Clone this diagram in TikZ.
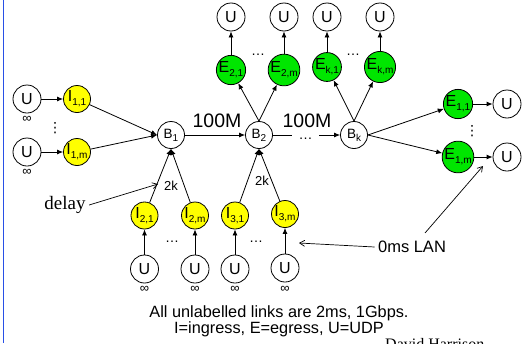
\documentclass[tikz,border=0pt]{standalone}
\usepackage{fontspec}
\setmainfont{Liberation Sans}
\newfontfamily\serifface{Liberation Serif}
\newfontfamily\symface{DejaVu Sans}
\usetikzlibrary{arrows.meta}
\definecolor{ingress}{RGB}{255,255,0}
\definecolor{egress}{RGB}{0,230,0}
\definecolor{edgeblue}{RGB}{40,80,230}
\newcommand\sublab[2]{#1\raisebox{-0.45ex}{\fontsize{10pt}{10pt}\selectfont #2}}
\tikzset{
  base/.style={circle,draw,line width=0.8pt,inner sep=0pt,minimum size=27pt,font=\fontsize{16pt}{16pt}\selectfont},
  udp/.style={base,minimum size=28pt},
  ingr/.style={base,fill=ingress},
  egr/.style={base,fill=egress},
  bottle/.style={base,font=\fontsize{13.5pt}{13.5pt}\selectfont},
  inf/.style={font=\fontsize{13pt}{13pt}\selectfont},
  link/.style={line width=0.8pt,-{Latex[length=6pt,width=5pt]}},
  plain/.style={line width=0.8pt},
  note/.style={line width=0.7pt,-{Straight Barb[length=5pt,width=6pt]}},
  dots/.style={font=\fontsize{14pt}{14pt}\selectfont,inner sep=0pt,anchor=base},
  vdots/.style={font=\symface\fontsize{14pt}{14pt}\selectfont},
  rate/.style={font=\fontsize{19.5pt}{19.5pt}\selectfont,inner sep=0pt,anchor=base},
  small/.style={font=\fontsize{13pt}{13pt}\selectfont},
  caption/.style={font=\fontsize{16.3pt}{16.3pt}\selectfont,inner sep=0pt,anchor=base},
}
\begin{document}
\begin{tikzpicture}[x=1pt,y=-1pt]
\useasboundingbox (0,0) rectangle (526,343);
\clip (0,0) rectangle (526,343);
\draw[edgeblue,line width=1.5pt] (3.5,0) -- (3.5,343);

% bottleneck routers
\node[bottle] (B1) at (171,135) {\sublab{B}{1}};
\node[bottle] (B2) at (259,135) {\sublab{B}{2}};
\node[bottle] (Bk) at (354,135) {\sublab{B}{k}};

% left sources and ingress nodes
\node[udp] (UL1) at (27,99) {U};
\node[udp] (ULm) at (27,152) {U};
\node[inf] (infL1) at (27,119) {∞};
\node[inf] (infLm) at (27,172) {∞};
\node[ingr] (I11) at (77,99) {\sublab{I}{1,1}};
\node[ingr] (I1m) at (77,152) {\sublab{I}{1,m}};
\node[vdots] (vdL) at (55,128) {⋮};

% bottom ingress nodes and sources
\node[ingr] (I21) at (144.5,215.5) {\sublab{I}{2,1}};
\node[ingr] (I2m) at (195,215.5) {\sublab{I}{2,m}};
\node[ingr] (I31) at (235,215.5) {\sublab{I}{3,1}};
\node[ingr] (I3m) at (285,214) {\sublab{I}{3,m}};
\node[udp] (UB1) at (144.5,269) {U};
\node[udp] (UB2) at (195,269) {U};
\node[udp] (UB3) at (235,269) {U};
\node[udp] (UB4) at (285,268) {U};
\node[inf] at (144.5,289) {∞};
\node[inf] at (195,289) {∞};
\node[inf] at (235,289) {∞};
\node[inf] at (285,289) {∞};
\node[dots] (dB1) at (172,242) {…};
\node[dots] (dB2) at (256,242) {…};

% top egress nodes and sinks
\node[egr] (E21) at (231,70) {\sublab{E}{2,1}};
\node[egr] (E2m) at (284,70) {\sublab{E}{2,m}};
\node[egr] (Ek1) at (327,67) {\sublab{E}{k,1}};
\node[egr] (Ekm) at (380,67) {\sublab{E}{k,m}};
\node[udp] (UT1) at (231,17) {U};
\node[udp] (UT2) at (284,17) {U};
\node[udp] (UT3) at (327,17) {U};
\node[udp] (UT4) at (380,17) {U};
\node[dots] (dT1) at (258,55) {…};
\node[dots] (dT2) at (353,55) {…};

% right egress nodes and sinks
\node[egr] (E11) at (458,104) {\sublab{E}{1,1}};
\node[egr] (E1m) at (458,157) {\sublab{E}{1,m}};
\node[udp] (UR1) at (507,104) {U};
\node[udp] (URm) at (507,157) {U};
\node[vdots] (vdR) at (472,131) {⋮};

% links between ingress, routers and egress
\draw[link] (UL1) -- (I11);
\draw[link] (ULm) -- (I1m);
\draw[link] (I11) -- (B1.west);
\draw[link] (I1m) -- (B1.west);
\draw[link] (I21) -- (B1.south);
\draw[link] (I2m) -- (B1.south);
\draw[link] (I31) -- (B2.south);
\draw[link] (I3m) -- (B2.south);
\draw[link] (UB1) -- (I21);
\draw[link] (UB2) -- (I2m);
\draw[link] (UB3) -- (I31);
\draw[link] (UB4) -- (I3m);
\draw[link] (B1) -- (B2);
\coordinate (chainA) at (292,135);
\coordinate (chainB) at (319,135);
\draw[plain] (B2) -- (chainA);
\node[dots] (dC) at (305.5,139.5) {…};
\draw[link] (chainB) -- (Bk);
\draw[link] (B2.north) -- (E21);
\draw[link] (B2.north) -- (E2m);
\draw[link] (Bk.north) -- (Ek1);
\draw[link] (Bk.north) -- (Ekm);
\draw[link] (Bk.east) -- (E11);
\draw[link] (Bk.east) -- (E1m);
\draw[link] (E21) -- (UT1);
\draw[link] (E2m) -- (UT2);
\draw[link] (Ek1) -- (UT3);
\draw[link] (Ekm) -- (UT4);
\draw[link] (E11) -- (UR1);
\draw[link] (E1m) -- (URm);

% link labels
\node[rate] (r1) at (217,127) {100M};
\node[rate] (r2) at (307,127) {100M};
\node[small] (k1) at (171,186) {2k};
\node[small] (k2) at (262,181) {2k};

% annotations
\node[font=\serifface\fontsize{19pt}{19pt}\selectfont] (delay) at (65,205) {delay};
\coordinate (delayTip) at (158,184);
\draw[note] (delay.east) -- (delayTip);
\node[font=\fontsize{16.5pt}{16.5pt}\selectfont] (lan) at (412,247) {0ms LAN};
\coordinate (lanTipA) at (299,243);
\coordinate (lanFoot) at (425,233);
\coordinate (lanTipB) at (483,166);
\draw[note] (lan.west) -- (lanTipA);
\draw[note] (lanFoot) -- (lanTipB);

\node[caption] (cap1) at (279,317) {All unlabelled links are 2ms, 1Gbps.};
\node[caption] (cap2) at (279,333) {I=ingress, E=egress, U=UDP};
\node[font=\serifface\fontsize{16pt}{16pt}\selectfont,anchor=north west,inner sep=0pt] (author) at (385,338) {David Harrison};
\end{tikzpicture}
\end{document}
